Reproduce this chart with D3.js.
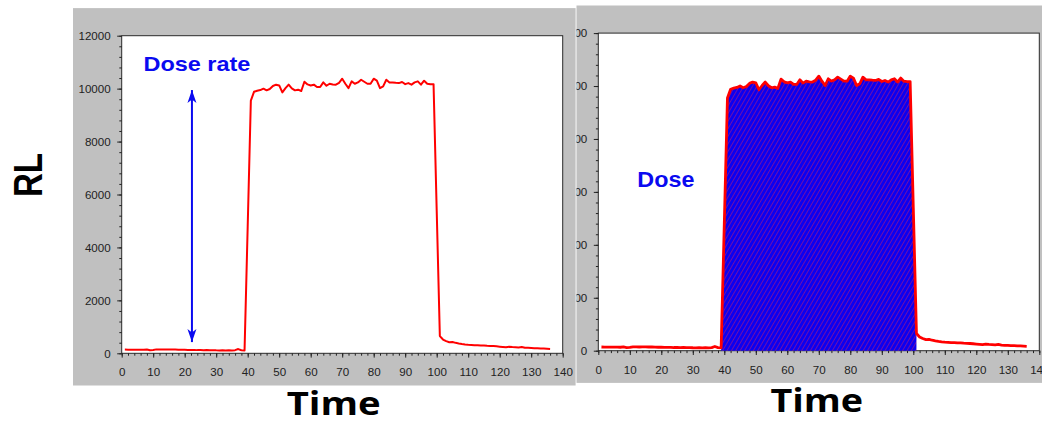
<!DOCTYPE html>
<html>
<head>
<meta charset="utf-8">
<script src="https://cdn.jsdelivr.net/npm/d3@7"></script>
<style>
  html, body { margin: 0; padding: 0; background: #ffffff; }
  svg { display: block; }
</style>
</head>
<body>
<svg id="chart" width="1042" height="426"></svg>
<script>
// Luminescence signal (RL) recorded over time; irradiation switched on ~40 s, off ~100 s
const timeStart = 1;
const timeEnd = 136;
const rlValues = [
  140, 135, 138, 132, 134, 136, 130, 142, 118, 126,
  148, 142, 140, 143, 141, 139, 146, 132, 130, 134,
  128, 124, 126, 120, 124, 118, 121, 114, 119, 112,
  108, 116, 110, 113, 107, 118, 160, 115, 108,
  4800,
  9550, 9880, 9920, 9945, 10000, 9935, 9985, 10100, 10150, 10120,
  9860, 10020, 10150, 10010, 9935, 9960, 9910, 10260, 10160, 10120,
  10150, 10060, 10060, 10235, 10110, 10185, 10160, 10150, 10220, 10375,
  10185, 10020, 10275, 10185, 10235, 10335, 10260, 10185, 10185, 10375,
  10300, 10020, 10085, 10335, 10235, 10235, 10220, 10210, 10250, 10170,
  10210, 10150, 10235, 10275, 10150, 10300, 10185, 10170, 10170,
  5400,
  650,
  520, 460, 420, 430, 395, 372, 352, 335, 322, 312,
  302, 308, 292, 296, 286, 280, 272, 262, 252, 242,
  228, 250, 236, 230, 222, 238, 210, 205, 200, 195,
  190, 185, 180, 172, 165
];
const timeValues = d3.range(timeStart, timeEnd + 1);

// Axis ranges and tick labels
const xDomain = [0, 140];
const yDomain = [0, 12000];
const xTicks = [0, 10, 20, 30, 40, 50, 60, 70, 80, 90, 100, 110, 120, 130, 140];
const yTicks = [0, 2000, 4000, 6000, 8000, 10000, 12000];

// Integration window shaded as the dose
const doseWindow = [39, 101];

// Dose-rate arrow (time, RL from, RL to) and label anchors (time, RL)
const rateArrow = { t: 22.3, from: 310, to: 10060 };
const rateLabel = { t: 6.9, v: 10650, text: "Dose rate" };
const doseLabel = { t: 12.4, v: 6180, text: "Dose" };

const data = timeValues.map((t, i) => ({ t, v: rlValues[i] }));

const svg = d3.select("#chart");
const W = 441, H = 317.6;

const defs = svg.append("defs");
const pat = defs.append("pattern")
  .attr("id", "doseHatch")
  .attr("patternUnits", "userSpaceOnUse")
  .attr("width", 3.8).attr("height", 3.8)
  .attr("patternTransform", "rotate(30)");
pat.append("rect").attr("width", 3.8).attr("height", 3.8).attr("fill", "#0c00f0");
pat.append("line").attr("x1", 0.3).attr("y1", 0).attr("x2", 0.3).attr("y2", 3.8)
  .attr("stroke", "#e0205a").attr("stroke-width", 0.55);

// arrow head pointing along +x, tip at the origin
const arrowHead = defs.append("marker")
  .attr("id", "arrowHead")
  .attr("viewBox", "-14 -6 15 12")
  .attr("refX", 0).attr("refY", 0)
  .attr("markerWidth", 15).attr("markerHeight", 12)
  .attr("markerUnits", "userSpaceOnUse")
  .attr("orient", "auto-start-reverse");
arrowHead.append("path").attr("d", "M0,0 L-13,-4.5 L-9.5,0 L-13,4.5 Z").attr("fill", "#0a0af0");

defs.append("clipPath").attr("id", "rightClip")
  .append("rect").attr("x", 576.5).attr("y", 0).attr("width", 470).attr("height", 426);

function drawPanel(g, opts) {
  const x = d3.scaleLinear().domain(xDomain).range([0, W]);
  const y = d3.scaleLinear().domain(yDomain).range([H, 0]);

  // grey frame
  g.append("rect")
    .attr("x", -48.7).attr("y", -27.6)
    .attr("width", opts.frameW).attr("height", H + 27.6 + 32.2)
    .attr("fill", "#c0c0c0");

  // plot area
  g.append("rect")
    .attr("x", 0).attr("y", 0).attr("width", W).attr("height", H)
    .attr("fill", "#ffffff").attr("stroke", "#2a2a2a").attr("stroke-width", 1);

  const font = "'Liberation Sans', Arial, sans-serif";

  // y axis: major and minor ticks
  const yMinor = d3.range(0, 12001, 400);
  g.append("g").call(d3.axisLeft(y).tickValues(yMinor).tickSize(2.4).tickFormat(""))
    .call(a => a.select(".domain").remove())
    .selectAll("line").attr("stroke", "#222");
  g.append("g").call(d3.axisLeft(y).tickValues(yTicks).tickSize(4.5).tickPadding(6.5).tickFormat(d3.format("d")))
    .call(a => a.select(".domain").remove())
    .call(a => a.selectAll("line").attr("stroke", "#222"))
    .call(a => a.selectAll("text").attr("fill", "#222").style("font-family", font).style("font-size", "11.6px"));

  // x axis: major and minor ticks
  const xMinor = d3.range(0, 141, 2);
  const xg = g.append("g").attr("transform", `translate(0,${H})`);
  xg.append("g").call(d3.axisBottom(x).tickValues(xMinor).tickSize(2.4).tickFormat(""))
    .call(a => a.select(".domain").remove())
    .selectAll("line").attr("stroke", "#222");
  xg.append("g").call(d3.axisBottom(x).tickValues(xTicks).tickSize(4.3).tickPadding(10.3).tickFormat(d3.format("d")))
    .call(a => a.select(".domain").remove())
    .call(a => a.selectAll("line").attr("stroke", "#222"))
    .call(a => a.selectAll("text").attr("fill", "#222").style("font-family", font).style("font-size", "11.6px"));

  // shaded dose area
  if (opts.dose) {
    const area = d3.area().x(d => x(d.t)).y0(y(0)).y1(d => y(d.v));
    g.append("path")
      .datum(data.filter(d => d.t >= doseWindow[0] && d.t <= doseWindow[1]))
      .attr("d", area)
      .attr("fill", "url(#doseHatch)");
  }

  // RL signal
  const line = d3.line().x(d => x(d.t)).y(d => y(d.v));
  g.append("path").datum(data)
    .attr("d", line)
    .attr("fill", "none")
    .attr("stroke", "#ff0000")
    .attr("stroke-width", opts.lineW)
    .attr("stroke-linejoin", "round");

  if (opts.rate) {
    g.append("line")
      .attr("x1", x(rateArrow.t)).attr("x2", x(rateArrow.t))
      .attr("y1", y(rateArrow.from) - 3).attr("y2", y(rateArrow.to) + 3)
      .attr("stroke", "#0a0af0").attr("stroke-width", 2)
      .attr("marker-start", "url(#arrowHead)")
      .attr("marker-end", "url(#arrowHead)");
    g.append("text")
      .attr("x", x(rateLabel.t)).attr("y", y(rateLabel.v))
      .attr("fill", "#0a0af0")
      .attr("textLength", 107).attr("lengthAdjust", "spacingAndGlyphs")
      .style("font-family", font).style("font-weight", "bold").style("font-size", "21px")
      .text(rateLabel.text);
  }
  if (opts.dose) {
    g.append("text")
      .attr("x", x(doseLabel.t)).attr("y", y(doseLabel.v))
      .attr("fill", "#0a0af0")
      .attr("textLength", 57).attr("lengthAdjust", "spacingAndGlyphs")
      .style("font-family", font).style("font-weight", "bold").style("font-size", "21.5px")
      .text(doseLabel.text);
  }

  // x axis title
  g.append("text")
    .attr("x", W / 2 + opts.titleDx).attr("y", H + 61.7)
    .attr("text-anchor", "middle")
    .attr("fill", "#000")
    .attr("textLength", opts.titleW).attr("lengthAdjust", "spacingAndGlyphs")
    .style("font-family", "'Open Sans', sans-serif").style("font-weight", "bold").style("font-size", "33px")
    .text("Time");
}

const left = svg.append("g").attr("transform", "translate(121.7,35.7)");
drawPanel(left, { frameW: 502.6, lineW: 2, rate: true, dose: false, titleW: 94, titleDx: -8.5 });

const right = svg.append("g").attr("clip-path", "url(#rightClip)")
  .append("g").attr("transform", "translate(598.3,33.1)");
drawPanel(right, { frameW: 500, lineW: 2.8, rate: false, dose: true, titleW: 92.7, titleDx: -2 });

// shared y axis title
svg.append("text")
  .attr("transform", "translate(42,175) rotate(-90)")
  .attr("text-anchor", "middle")
  .attr("fill", "#000")
  .attr("textLength", 44).attr("lengthAdjust", "spacingAndGlyphs")
  .style("font-family", "'Liberation Sans', Arial, sans-serif").style("font-weight", "bold").style("font-size", "41px")
  .text("RL");
</script>
</body>
</html>
